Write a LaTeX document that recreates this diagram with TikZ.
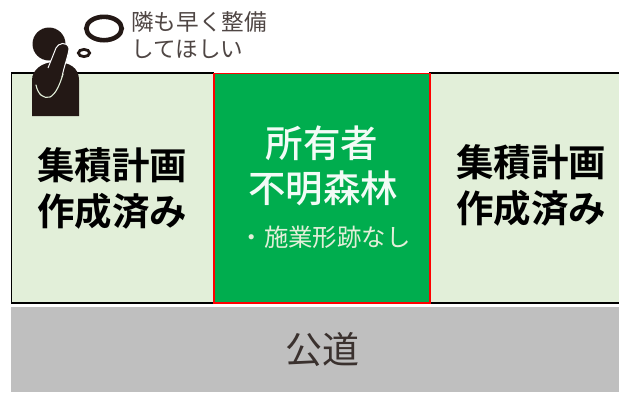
\documentclass[tikz,border=0pt]{standalone}
\usepackage{fontspec}
\setmainfont{Noto Sans CJK JP Medium}
\newfontfamily\jpbold{Noto Sans CJK JP Bold}
\newfontfamily\jplight{Noto Sans CJK JP}
\definecolor{palegreen}{HTML}{E2EFD9}
\definecolor{forest}{HTML}{00AD4E}
\definecolor{roadgray}{HTML}{BFBFBF}
\definecolor{ink}{HTML}{231815}
\tikzset{
 plotbox/.style={draw=black,line width=1.6pt,fill=palegreen},
 headtext/.style={font=\jpbold\fontsize{37.5}{46}\selectfont,align=center,text=black,inner sep=0pt},
 whitetext/.style={font=\fontsize{37.5}{45}\selectfont,align=center,text=white!95!forest,inner sep=0pt},
 subtext/.style={font=\jplight\fontsize{24.4}{28}\selectfont,text=palegreen,inner sep=0pt},
 thinktext/.style={font=\jplight\fontsize{22.6}{27}\selectfont,align=left,text=ink!80,inner sep=0pt},
 roadtext/.style={font=\jplight\fontsize{37}{44}\selectfont,text=ink!85!roadgray,inner sep=0pt},
 figure/.style={fill=ink,draw=none},
 slit/.style={draw=palegreen,line width=1.1pt,line cap=round}
}
\begin{document}
\begin{tikzpicture}[x=1pt,y=-1pt]
\useasboundingbox (0,0) rectangle (619,392);
\fill[white] (0,0) rectangle (619,392);
% plots
\draw[plotbox] (11.5,73) rectangle (213.5,303);
\draw[plotbox] (430,73) -- (625,73) -- (625,303) -- (430,303) -- cycle;
\draw[draw=red,line width=1.7pt,fill=forest] (214,73.5) rectangle (430,303);
\fill[roadgray] (11,307) rectangle (619,392);
% figure
\fill[figure] (49,44) circle (16.5);
\fill[figure] (32,116) -- (32,80) .. controls (32,70) and (42,62) .. (55,62) .. controls (70,62) and (79,68) .. (79,80) -- (79,116) -- cycle;
\draw[draw=white,line width=1pt,fill=ink] (48,68) -- (56,48) .. controls (58,43) and (67,41) .. (69,48) .. controls (69,54) and (64,66) .. (62,77);
\draw[slit] (36,85) .. controls (38,95) and (44,99) .. (50,97) .. controls (56,94) and (60,84) .. (63,74);
% bubbles
\draw[draw=ink,fill=none,line width=4.6pt] (104,28.5) ellipse (17.7 and 11.7);
\draw[draw=ink,fill=none,line width=2.8pt] (84,53) ellipse (5.6 and 3.6);
% texts
\node[thinktext,anchor=west] (think) at (131,22) {隣も早く整備};
\node[thinktext,anchor=west] (think2) at (131,49) {してほしい};
\node[headtext] (left1) at (112.5,165) {集積計画};
\node[headtext] (left2) at (112.5,211) {作成済み};
\node[headtext] (right1) at (531,162) {集積計画};
\node[headtext] (right2) at (531,208) {作成済み};
\node[whitetext] (mid1) at (322,143) {所有者};
\node[whitetext] (mid2) at (323,188) {不明森林};
\node[subtext] (mid3) at (325,237) {・施業形跡なし};
\node[roadtext] (road) at (322,350) {公道};
\end{tikzpicture}
\end{document}
